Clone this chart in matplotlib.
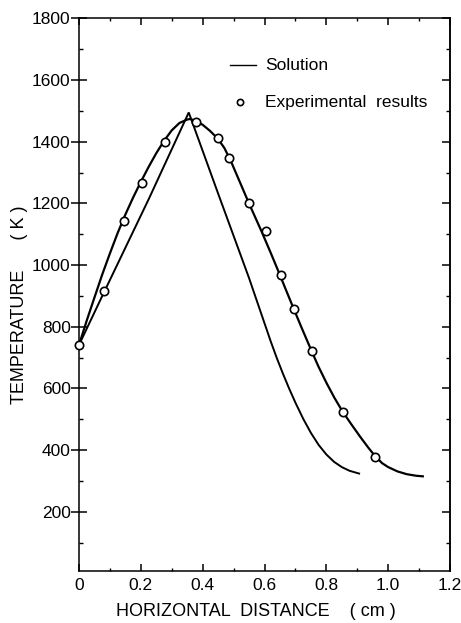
import matplotlib
matplotlib.use('Agg')
import matplotlib.pyplot as plt
from matplotlib.ticker import MultipleLocator

plt.rcParams['font.family'] = ['Liberation Sans', 'DejaVu Sans']

# Solution curve (cm, K)
sol_x = [0.0, 0.08, 0.226, 0.355, 0.45, 0.55, 0.62, 0.64, 0.66, 0.68, 0.70, 0.725, 0.75,
         0.775, 0.80, 0.825, 0.85, 0.875, 0.906]
sol_y = [741, 910, 1215, 1495, 1232, 958, 753, 698, 647, 599, 554, 502, 456,
         417, 386, 362, 345, 333, 324]

# Smooth curve through experimental results
fit_x = [0.0, 0.025, 0.05, 0.075, 0.1, 0.125, 0.15, 0.175, 0.2, 0.225, 0.25, 0.275, 0.3,
         0.325, 0.35, 0.36, 0.38, 0.40, 0.424, 0.449, 0.47, 0.49, 0.52, 0.549, 0.57, 0.591,
         0.62, 0.649, 0.67, 0.695, 0.72, 0.752, 0.775, 0.801, 0.826, 0.852, 0.88, 0.909,
         0.935, 0.955, 0.98, 1.0, 1.03, 1.06, 1.09, 1.112]
fit_y = [741, 820, 895, 969, 1038, 1104, 1164, 1219, 1270, 1318, 1363, 1403, 1437,
         1461, 1472, 1474, 1466, 1455, 1435, 1410, 1380, 1340, 1270, 1202, 1155, 1108,
         1040, 970, 918, 857, 797, 722, 670, 617, 570, 526, 485, 444,
         409, 384, 358, 345, 331, 322, 317, 315]

# Experimental results
exp_x = [0.0, 0.082, 0.145, 0.203, 0.278, 0.380, 0.448, 0.484, 0.550, 0.604, 0.654, 0.697, 0.754, 0.855, 0.956]
exp_y = [741, 916, 1144, 1267, 1400, 1465, 1413, 1348, 1200, 1110, 969, 857, 720, 525, 377]

x_ticks = [0, 0.2, 0.4, 0.6, 0.8, 1.0, 1.2]
x_tick_labels = ['0', '0.2', '0.4', '0.6', '0.8', '1.0', '1.2']
y_ticks = [200, 400, 600, 800, 1000, 1200, 1400, 1600, 1800]
y_tick_labels = ['200', '400', '600', '800', '1000', '1200', '1400', '1600', '1800']

W, H = 461, 623
fig = plt.figure(figsize=(W / 100, H / 100), dpi=100)
L, R, T, B = 79, 450, 18.4, 570.7
ax = fig.add_axes([L / W, 1 - B / H, (R - L) / W, (B - T) / H])

ax.plot(sol_x, sol_y, color='black', lw=1.4, solid_joinstyle='miter')
ax.plot(fit_x, fit_y, color='black', lw=1.6)
ax.plot(exp_x, exp_y, linestyle='none', marker='o', ms=6, mfc='white', mec='black',
        mew=1.2, clip_on=False, zorder=3)

ax.set_xlim(0, 1.2)
ax.set_ylim(9, 1800)
ax.set_xticks(x_ticks)
ax.set_xticklabels(x_tick_labels)
ax.set_yticks(y_ticks)
ax.set_yticklabels(y_tick_labels)
ax.xaxis.set_minor_locator(MultipleLocator(0.1))
ax.yaxis.set_minor_locator(MultipleLocator(100))

for s in ax.spines.values():
    s.set_linewidth(1.1)

ax.tick_params(axis='x', which='major', direction='in', length=5, width=1.1,
               top=True, labelsize=12.5, pad=5)
ax.tick_params(axis='x', which='minor', direction='in', length=2.5, width=1.0, top=True)
ax.tick_params(axis='y', which='major', direction='inout', length=12, width=1.1,
               right=False, labelsize=12.5, pad=0)
ax.tick_params(axis='y', which='minor', direction='in', length=3, width=1.0, right=False)

# Right-hand ticks, inward only
sec = ax.secondary_yaxis('right')
sec.set_yticks(y_ticks)
sec.yaxis.set_minor_locator(MultipleLocator(100))
sec.tick_params(axis='y', which='major', direction='in', length=6, width=1.1, labelright=False)
sec.tick_params(axis='y', which='minor', direction='in', length=3, width=1.0)
sec.spines['right'].set_linewidth(1.1)

fig.text(256 / W, 1 - 612 / H, 'HORIZONTAL  DISTANCE    ( cm )', ha='center', va='center',
         fontsize=13)
fig.text(19 / W, 1 - 305 / H, 'TEMPERATURE      ( K )', ha='center', va='center',
         rotation=90, fontsize=13)

def ax_pt(px, py):
    return (px - L) / (R - L), (B - py) / (B - T)

# Legend
x0, y0 = ax_pt(230, 65)
x1, _ = ax_pt(256, 65)
ax.plot([x0, x1], [y0, y0], color='black', lw=1.0, transform=ax.transAxes)
tx, _ = ax_pt(265, 65)
ax.text(tx, y0, 'Solution', transform=ax.transAxes, ha='left', va='center', fontsize=12.5)
cx, cy = ax_pt(240, 102)
ax.plot([cx], [cy], marker='o', ms=4.5, mfc='white', mec='black', mew=1.2,
        transform=ax.transAxes)
ax.text(tx, cy, 'Experimental  results', transform=ax.transAxes, ha='left', va='center',
        fontsize=12.5)

fig.savefig('out.png', dpi=100)
